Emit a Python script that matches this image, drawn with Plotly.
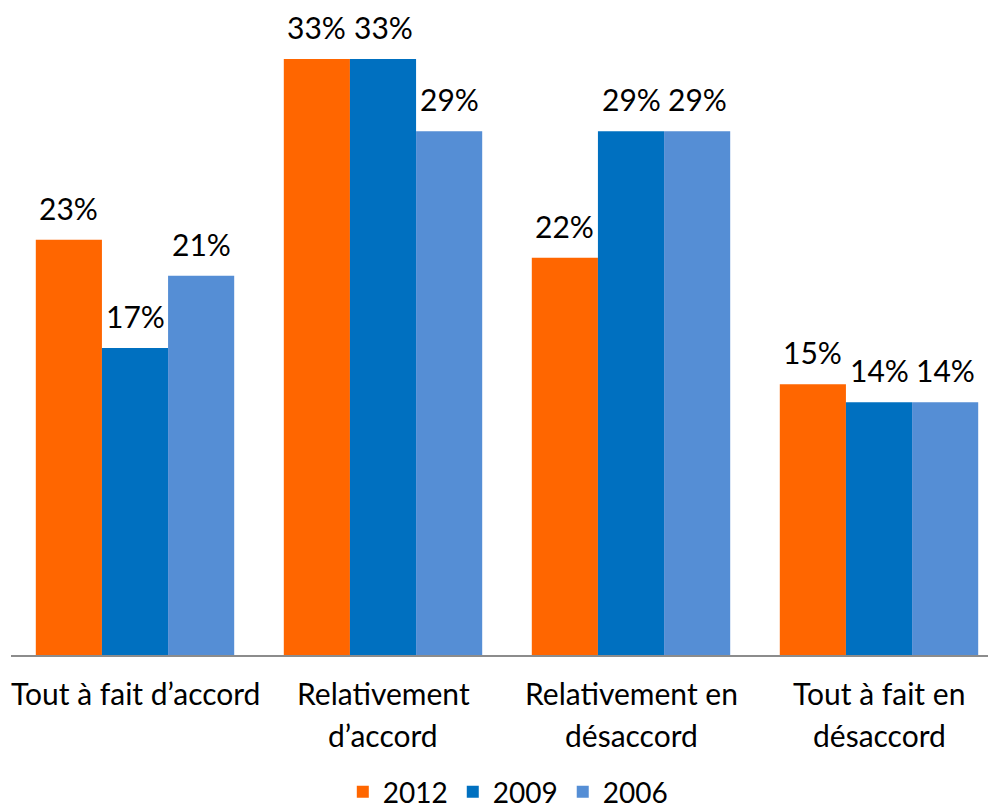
import plotly.graph_objects as go

categories = ["Tout à fait d’accord", "Relativement<br>d’accord", "Relativement en<br>désaccord", "Tout à fait en<br>désaccord"]
series_names = ["2012", "2009", "2006"]
values_2012 = [23, 33, 22, 15]
values_2009 = [17, 33, 29, 14]
values_2006 = [21, 29, 29, 14]
colors = ["#FF6600", "#0070C0", "#558ED5"]

FONT = "Lato"
FS = 30

series = [values_2012, values_2009, values_2006]
fig = go.Figure()
for name, vals, col in zip(series_names, series, colors):
    fig.add_trace(go.Bar(x=list(range(len(categories))), y=vals, name=name,
                         marker=dict(color=col, line=dict(width=0))))

annotations = []
gw = 0.8 / 3
for j, vals in enumerate(series):
    for i, v in enumerate(vals):
        annotations.append(dict(x=i + (j - 1) * gw, y=v, xref="x", yref="y",
                                text=f"{v}%", showarrow=False, yanchor="bottom",
                                yshift=12, font=dict(family=FONT, size=FS, color="#000")))
# category labels, one line per annotation
for i, c in enumerate(categories):
    for k, line in enumerate(c.split("<br>")):
        annotations.append(dict(x=i, y=0, xref="x", yref="y", text=line, showarrow=False,
                                yanchor="middle", yshift=-38 - 42 * k,
                                font=dict(family=FONT, size=FS, color="#000")))

fig.update_layout(
    width=988, height=810,
    margin=dict(l=11, r=0, t=23, b=155, autoexpand=False),
    paper_bgcolor="white", plot_bgcolor="white",
    barmode="group", bargap=0.2, bargroupgap=0,
    font=dict(family=FONT, size=FS, color="#000"),
    xaxis=dict(range=[-0.5, 3.5 - 15 / 248], showticklabels=False, ticks="",
               showline=True, linecolor="#8C8C8C", linewidth=2, showgrid=False,
               zeroline=False, fixedrange=True),
    yaxis=dict(range=[0, 35], visible=False, showgrid=False, zeroline=False),
    showlegend=True,
    legend=dict(orientation="h", x=0.5085, xanchor="center", y=-0.217, yanchor="middle",
                font=dict(family=FONT, size=28), itemwidth=30, traceorder="normal"),
    annotations=annotations,
)
fig.write_html("out.html", config={"displayModeBar": False},
               post_script="document.body.style.margin='0';document.body.style.overflow='hidden';")
